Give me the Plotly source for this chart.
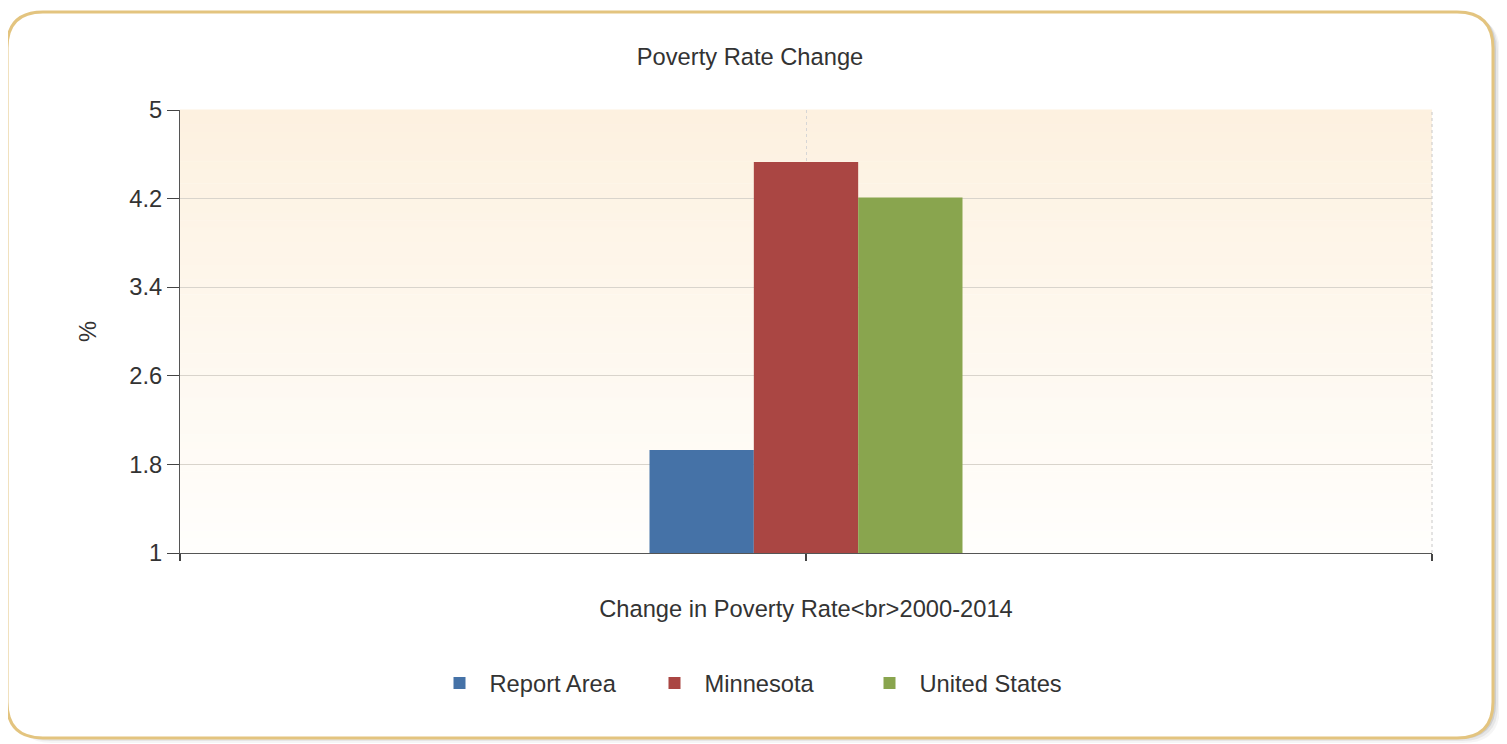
import plotly.graph_objects as go

# ---- data ----
categories = ["Change in Poverty Rate 2000-2014"]
series_names = ["Report Area", "Minnesota", "United States"]
report_area = [1.93]
minnesota = [4.53]
united_states = [4.21]
y_ticks = [1, 1.8, 2.6, 3.4, 4.2, 5]
y_tick_labels = ["1", "1.8", "2.6", "3.4", "4.2", "5"]

colors = ["#4572a7", "#aa4643", "#89a54e"]
values = [report_area, minnesota, united_states]

# page has an 8px body margin: figure coords = page coords - 8
OFF = 8
W, H = 1507 - OFF, 744 - OFF
ML = 180 - OFF
MT = 110 - OFF
MR = W - (1432 - OFF)
MB = H - (553 - OFF)
PW = W - ML - MR
PH = H - MT - MB


def px(x):
    return (x - OFF - ML) / PW


def py(y):
    return (H - MB - (y - OFF)) / PH


x_pos = [i + 1 for i in range(len(categories))]

fig = go.Figure()
for name, vals, col in zip(series_names, values, colors):
    fig.add_trace(go.Bar(x=x_pos, y=vals, name=name, marker=dict(color=col, line=dict(width=0)),
                         hovertext=categories))

font_family = "Liberation Sans, Arial, sans-serif"
txt = "#333333"
FS = 23.7


def rounded_rect(x0, y0, x1, y1, r):
    rx = r
    return (f"M {px(x0 + rx)},{py(y0)} L {px(x1 - rx)},{py(y0)} "
            f"Q {px(x1)},{py(y0)} {px(x1)},{py(y0 + rx)} "
            f"L {px(x1)},{py(y1 - rx)} Q {px(x1)},{py(y1)} {px(x1 - rx)},{py(y1)} "
            f"L {px(x0 + rx)},{py(y1)} Q {px(x0)},{py(y1)} {px(x0)},{py(y1 - rx)} "
            f"L {px(x0)},{py(y0 + rx)} Q {px(x0)},{py(y0)} {px(x0 + rx)},{py(y0)} Z")


shapes = []
# shadow layers
for off, c in [(9, "rgba(0,0,0,0.04)"), (7, "rgba(0,0,0,0.06)"), (5, "rgba(0,0,0,0.10)")]:
    shapes.append(dict(type="path", xref="paper", yref="paper", layer="below",
                       path=rounded_rect(7 + off, 12 + off - 4, 1493 + off - 2, 738 + off - 4, 36),
                       fillcolor=c, line=dict(width=0)))
# frame
shapes.append(dict(type="path", xref="paper", yref="paper", layer="below",
                   path=rounded_rect(7, 12, 1493, 738, 36),
                   fillcolor="white", line=dict(color="#e3c47f", width=3)))

# gradient background bands within plot area
n = 60
top = (253, 241, 224)
bot = (255, 254, 252)
for i in range(n):
    t = i / (n - 1)
    c = tuple(round(top[k] + (bot[k] - top[k]) * t) for k in range(3))
    shapes.append(dict(type="rect", xref="x domain", yref="y domain", layer="below",
                       x0=0, x1=1, y0=1 - (i + 1) / n, y1=1 - i / n + 0.001,
                       fillcolor=f"rgb{c}", line=dict(width=0)))
# right dotted edge
shapes.append(dict(type="line", xref="x domain", yref="y domain", layer="below",
                   x0=1, x1=1, y0=0, y1=1, line=dict(color="#c8c8c8", width=1, dash="dot")))

fig.update_layout(
    width=W, height=H,
    margin=dict(l=ML, r=MR, t=MT, b=MB, autoexpand=False),
    paper_bgcolor="white",
    plot_bgcolor="rgba(0,0,0,0)",
    font=dict(family=font_family, size=FS, color=txt),
    title=dict(text="Poverty Rate Change", x=(750 - OFF) / W, xanchor="center", xref="container",
               y=1 - (57 - OFF) / H, yanchor="middle", font=dict(size=FS, color=txt)),
    barmode="group",
    bargap=0.5,
    bargroupgap=0,
    showlegend=True,
    legend=dict(orientation="h", x=px(752), xanchor="center", y=py(683), yanchor="middle",
                font=dict(size=FS, color=txt), bgcolor="rgba(0,0,0,0)", itemwidth=50,
                entrywidth=150, entrywidthmode="pixels"),
    shapes=shapes,
)

fig.update_xaxes(
    range=[0, 2], tickmode="array", tickvals=[0, 1, 2], ticktext=["", "", ""],
    showticklabels=False, ticks="outside", ticklen=7, tickcolor="#444", tickwidth=2,
    showline=True, linecolor="#555", linewidth=1,
    showgrid=True, gridcolor="#d6d6d6", griddash="dot", gridwidth=1,
    zeroline=False,
    title=dict(text="Change in Poverty Rate&lt;br&gt;2000-2014", standoff=40,
               font=dict(size=FS, color=txt)),
)
fig.update_yaxes(
    range=[1, 5], tickmode="array", tickvals=y_ticks, ticktext=y_tick_labels,
    ticks="outside", ticklen=12, tickcolor="#444", tickwidth=1,
    showline=True, linecolor="#555", linewidth=1,
    showgrid=True, gridcolor="#d9d4cc", gridwidth=1, zeroline=False,
    tickfont=dict(size=FS, color=txt),
    title=dict(text="%", standoff=26, font=dict(size=FS, color=txt)),
)

fig.write_html("out.html")
